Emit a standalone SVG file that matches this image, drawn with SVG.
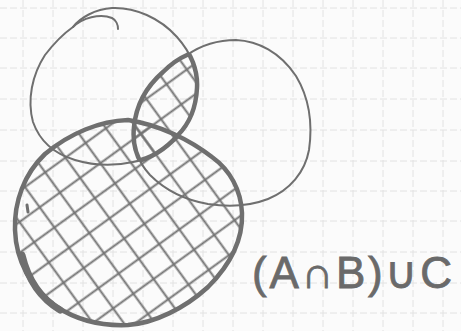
<svg xmlns="http://www.w3.org/2000/svg" width="461" height="331" viewBox="0 0 461 331">
  <defs>
    <style>
      .grid line { stroke: #e2e2e2; stroke-width: 1; stroke-dasharray: 7 3; }
      .thin { fill: none; stroke: #6f6f6f; stroke-width: 2; stroke-linecap: round; stroke-linejoin: round; }
      .thick { fill: none; stroke: #6f6f6f; stroke-width: 4.5; stroke-linecap: round; stroke-linejoin: round; }
      .label { font-family: "Liberation Sans", Arial, sans-serif; font-size: 44px; fill: #6a6a6a; stroke: #6a6a6a; stroke-width: 0.8; }
    </style>
    <pattern id="hatch" patternUnits="userSpaceOnUse" width="25" height="25" patternTransform="rotate(-36 120 220)">
      <line x1="0" y1="12.5" x2="25" y2="12.5" stroke="#737373" stroke-width="2"/>
      <line x1="12.5" y1="0" x2="12.5" y2="25" stroke="#737373" stroke-width="2"/>
    </pattern>
    <path id="pA" d="M73,27 C80,18 95,9 112,8 C135,7 160,18 177,37 C192,54 198,70 197,88 C196,108 190,123 178,135 C165,150 150,159 133,162 C115,166 95,166 75,160 C55,154 40,142 33,122 C27,100 32,75 45,55 C55,42 63,34 73,27 Z"/>
    <path id="pB" d="M187,55 C200,46 218,40 236,40 C258,41 280,52 296,76 C308,96 313,122 309,150 C305,172 290,190 268,199 C250,206 228,207 208,204 C185,200 165,190 150,175 C138,162 132,145 134,127 C136,105 147,86 163,72 C172,63 180,58 187,55 Z"/>
    <path id="pC" d="M128,120 C100,121 70,133 45,154 C24,174 14,202 15,230 C16,260 30,288 57,307 C80,322 105,326 128,325 C155,323 185,308 208,287 C230,265 243,240 242,213 C241,190 230,170 212,157 C190,140 160,125 128,120 Z"/>
    <clipPath id="clipA"><use href="#pA"/></clipPath>
    <clipPath id="clipB"><use href="#pB"/></clipPath>
  </defs>

  <rect width="461" height="331" fill="#fbfbfb"/>
  <g class="grid">
    <line x1="23" y1="0" x2="23" y2="331"/>
    <line x1="53" y1="0" x2="53" y2="331"/>
    <line x1="83" y1="0" x2="83" y2="331"/>
    <line x1="113" y1="0" x2="113" y2="331"/>
    <line x1="143" y1="0" x2="143" y2="331"/>
    <line x1="173" y1="0" x2="173" y2="331"/>
    <line x1="203" y1="0" x2="203" y2="331"/>
    <line x1="233" y1="0" x2="233" y2="331"/>
    <line x1="263" y1="0" x2="263" y2="331"/>
    <line x1="293" y1="0" x2="293" y2="331"/>
    <line x1="323" y1="0" x2="323" y2="331"/>
    <line x1="353" y1="0" x2="353" y2="331"/>
    <line x1="383" y1="0" x2="383" y2="331"/>
    <line x1="413" y1="0" x2="413" y2="331"/>
    <line x1="443" y1="0" x2="443" y2="331"/>
    <line x1="0" y1="8" x2="461" y2="8"/>
    <line x1="0" y1="38" x2="461" y2="38"/>
    <line x1="0" y1="68" x2="461" y2="68"/>
    <line x1="0" y1="99" x2="461" y2="99"/>
    <line x1="0" y1="130" x2="461" y2="130"/>
    <line x1="0" y1="161" x2="461" y2="161"/>
    <line x1="0" y1="191" x2="461" y2="191"/>
    <line x1="0" y1="221" x2="461" y2="221"/>
    <line x1="0" y1="252" x2="461" y2="252"/>
    <line x1="0" y1="283" x2="461" y2="283"/>
    <line x1="0" y1="313" x2="461" y2="313"/>
  </g>

  <g id="hatching">
    <use href="#pC" fill="url(#hatch)"/>
    <use href="#pA" fill="url(#hatch)" clip-path="url(#clipB)"/>
  </g>

  <g id="setA">
    <use href="#pA" class="thin"/>
    <path class="thin" d="M73,27 C82,18 100,13 112,18 C116,20 118,25 118,29"/>
  </g>
  <g id="setB">
    <use href="#pB" class="thin"/>
  </g>
  <g id="intersectionAB">
    <use href="#pA" class="thick" clip-path="url(#clipB)"/>
    <use href="#pB" class="thick" clip-path="url(#clipA)"/>
  </g>
  <g id="setC">
    <use href="#pC" class="thick"/>
    <path d="M22,255 C28,280 40,298 60,310" fill="none" stroke="#6f6f6f" stroke-width="7" stroke-linecap="round"/>
    <path d="M27,205 L28,212" fill="none" stroke="#6f6f6f" stroke-width="3" stroke-linecap="round"/>
  </g>

  <g id="label">
    <text class="label" x="252" y="288" textLength="200" lengthAdjust="spacing">(A∩B)∪C</text>
  </g>
</svg>
